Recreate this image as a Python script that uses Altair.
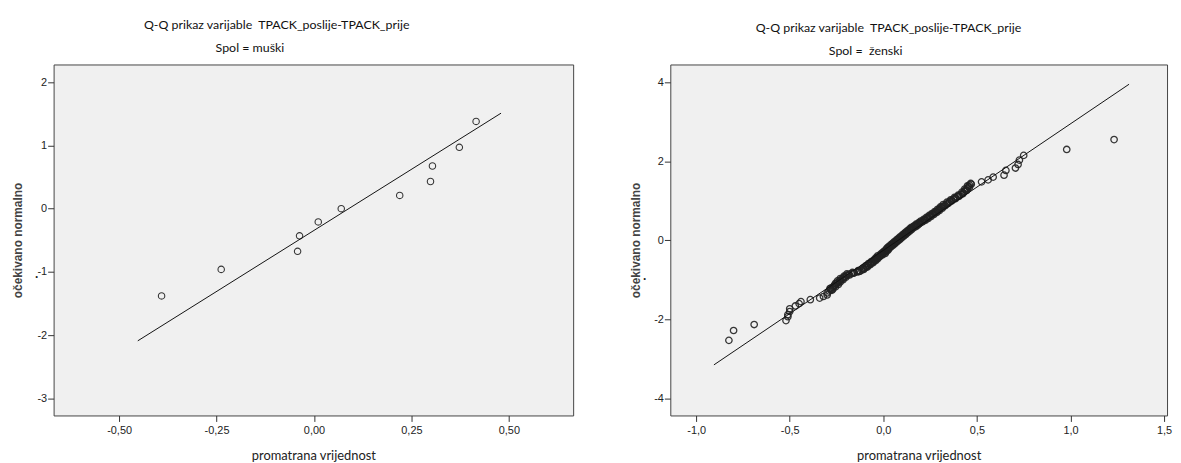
import altair as alt
import pandas as pd

NB = "\u00a0"
TITLE = "Q-Q prikaz varijable" + NB + NB + "TPACK_poslije-TPACK_prije"
SUB_M = "Spol = muški"
SUB_F = "Spol =" + NB + NB + "ženski"
X_TITLE = "promatrana vrijednost"
Y_TITLE = "očekivano normalno"

# ---- muški panel ----
m_obs = [-0.391, -0.238, -0.042, -0.037, 0.011, 0.070, 0.220, 0.299, 0.304, 0.373, 0.416]
m_exp = [-1.38, -0.96, -0.675, -0.43, -0.21, 0.0, 0.21, 0.43, 0.675, 0.97, 1.38]
m_line_x = [-0.452, 0.480]
m_line_y = [-2.09, 1.51]
m_xticks = [-0.5, -0.25, 0.0, 0.25, 0.5]
m_yticks = [-3, -2, -1, 0, 1, 2]

# ---- ženski panel ----
f_obs = [
    -0.825, -0.80, -0.69, -0.52, -0.51, -0.51, -0.50, -0.50, -0.47, -0.45,
    -0.44, -0.39, -0.34, -0.32, -0.30, -0.30,
    -0.29, -0.28, -0.285, -0.27, -0.265, -0.26, -0.25, -0.245, -0.235, -0.23,
    -0.22, -0.215, -0.205, -0.195, -0.185, -0.17, -0.155, -0.14, -0.125, -0.115,
    -0.105, -0.095, -0.09, -0.08, -0.07, -0.065, -0.055, -0.05, -0.045, -0.04,
    -0.035, -0.03, -0.02, -0.015, -0.01, -0.005, 0.0, 0.005, 0.01, 0.015,
    0.02, 0.02, 0.025, 0.03, 0.035, 0.04, 0.045, 0.05, 0.055, 0.06,
    0.065, 0.07, 0.075, 0.08, 0.085, 0.09, 0.095, 0.10, 0.105, 0.11,
    0.115, 0.12, 0.125, 0.13, 0.135, 0.14, 0.145, 0.15, 0.155, 0.16,
    0.17, 0.175, 0.18, 0.19, 0.195, 0.20, 0.21, 0.215, 0.22, 0.23,
    0.235, 0.245, 0.25, 0.26, 0.265, 0.275, 0.28, 0.29, 0.295, 0.30,
    0.31, 0.32, 0.33, 0.34, 0.35, 0.355, 0.365, 0.375, 0.385, 0.395,
    0.405, 0.415, 0.425, 0.435, 0.44, 0.45, 0.455, 0.46,
    0.467, 0.525, 0.56, 0.587, 0.645, 0.655, 0.706, 0.72, 0.727, 0.75,
    0.98, 1.233,
    -0.275, -0.27, -0.28, -0.255, -0.26, -0.24, -0.255, -0.23, -0.245, -0.215,
    -0.23, -0.20, -0.21, -0.18, -0.195, -0.16, -0.165, -0.13, -0.135, -0.105,
    -0.11, -0.085, -0.095, -0.07, -0.08, -0.055, -0.065, -0.04, -0.05, -0.03,
    -0.04, -0.02, -0.03, -0.005, -0.015, 0.01, -0.005, 0.015, 0.005, 0.025,
    0.015, 0.03, 0.02, 0.04, 0.03, 0.05, 0.04, 0.06, 0.05, 0.07,
    0.06, 0.08, 0.07, 0.09, 0.08, 0.10, 0.09, 0.11, 0.10, 0.12,
    0.11, 0.13, 0.12, 0.14, 0.13, 0.15, 0.14, 0.16, 0.15, 0.175,
    0.165, 0.185, 0.175, 0.195, 0.19, 0.21, 0.20, 0.225, 0.215, 0.24,
    0.23, 0.255, 0.245, 0.27, 0.26, 0.285, 0.275, 0.30, 0.29, 0.315,
    0.305, 0.33, 0.32, 0.345, 0.34, 0.365, 0.36, 0.385, 0.38, 0.405,
    0.40, 0.425, 0.42, 0.445, 0.435, 0.46, 0.45, 0.47,
]
f_exp = [
    -2.53, -2.28, -2.13, -2.03, -1.93, -1.88, -1.80, -1.73, -1.66, -1.60,
    -1.55, -1.50, -1.46, -1.42, -1.38, -1.33,
    -1.28, -1.25, -1.22, -1.19, -1.16, -1.13, -1.10, -1.07, -1.04, -1.01,
    -0.98, -0.95, -0.92, -0.89, -0.86, -0.84, -0.82, -0.80, -0.78, -0.75,
    -0.72, -0.69, -0.66, -0.63, -0.60, -0.575, -0.55, -0.525, -0.50, -0.475,
    -0.45, -0.425, -0.40, -0.38, -0.36, -0.34, -0.32, -0.30, -0.28, -0.26,
    -0.24, -0.22, -0.20, -0.18, -0.16, -0.14, -0.12, -0.10, -0.08, -0.06,
    -0.04, -0.02, 0.0, 0.02, 0.04, 0.06, 0.08, 0.10, 0.12, 0.14,
    0.16, 0.18, 0.20, 0.22, 0.24, 0.26, 0.28, 0.30, 0.32, 0.34,
    0.36, 0.38, 0.40, 0.42, 0.44, 0.46, 0.48, 0.50, 0.52, 0.545,
    0.57, 0.595, 0.62, 0.645, 0.67, 0.695, 0.72, 0.745, 0.77, 0.80,
    0.83, 0.86, 0.89, 0.92, 0.95, 0.98, 1.01, 1.04, 1.07, 1.10,
    1.13, 1.16, 1.20, 1.24, 1.28, 1.32, 1.36, 1.40,
    1.44, 1.48, 1.53, 1.60, 1.65, 1.77, 1.83, 1.92, 2.03, 2.15,
    2.30, 2.55,
    -1.265, -1.235, -1.205, -1.175, -1.145, -1.115, -1.085, -1.055, -1.025, -0.995,
    -0.965, -0.935, -0.905, -0.875, -0.85, -0.83, -0.81, -0.79, -0.765, -0.735,
    -0.705, -0.675, -0.645, -0.615, -0.59, -0.565, -0.54, -0.51, -0.49, -0.465,
    -0.44, -0.415, -0.39, -0.37, -0.35, -0.33, -0.31, -0.29, -0.27, -0.25,
    -0.23, -0.21, -0.19, -0.17, -0.15, -0.13, -0.11, -0.09, -0.07, -0.05,
    -0.03, -0.01, 0.01, 0.03, 0.05, 0.07, 0.09, 0.11, 0.13, 0.15,
    0.17, 0.19, 0.21, 0.23, 0.25, 0.27, 0.29, 0.31, 0.33, 0.35,
    0.37, 0.39, 0.41, 0.43, 0.45, 0.47, 0.49, 0.51, 0.53, 0.555,
    0.58, 0.605, 0.63, 0.655, 0.68, 0.705, 0.73, 0.755, 0.785, 0.815,
    0.845, 0.875, 0.905, 0.935, 0.965, 0.995, 1.025, 1.055, 1.085, 1.115,
    1.145, 1.18, 1.22, 1.26, 1.30, 1.34, 1.38, 1.42,
]
f_line_x = [-0.905, 1.313]
f_line_y = [-3.15, 3.95]
f_xticks = [-1.0, -0.5, 0.0, 0.5, 1.0, 1.5]
f_yticks = [-4, -2, 0, 2, 4]

MINUS = "\u2212"


def label_expr(fmt):
    return "replace(replace(format(datum.value, '%s'), '.', ','), '%s', '-')" % (fmt, MINUS)


def panel(obs, exp, lx, ly, xdom, ydom, xticks, yticks, xfmt, w, h,
          sub, tx, ty, sx, sy, ytitle_x, dot_x, dot_y, sw):
    pts = pd.DataFrame({"x": obs, "y": exp})
    ln = pd.DataFrame({"x": lx, "y": ly})
    xs = alt.Scale(domain=xdom, nice=False, zero=False)
    ys = alt.Scale(domain=ydom, nice=False, zero=False)
    xaxis = alt.Axis(values=xticks, labelExpr=label_expr(xfmt), title=X_TITLE,
                     titleFont="Lato", titleFontSize=13, titleFontWeight="normal",
                     titleColor="#222", titlePadding=14, labelPadding=3)
    yaxis = alt.Axis(values=yticks, labelExpr=label_expr("d"), title=Y_TITLE,
                     titleFont="Liberation Sans", titleFontSize=12,
                     titleFontWeight="bold", titleColor="#444",
                     titleX=ytitle_x, labelPadding=1)
    points = alt.Chart(pts).mark_point(
        shape="circle", filled=False, size=42, stroke="#222",
        strokeWidth=sw, opacity=0.9
    ).encode(
        x=alt.X("x:Q", scale=xs, axis=xaxis),
        y=alt.Y("y:Q", scale=ys, axis=yaxis),
    )
    line = alt.Chart(ln).mark_line(color="#111", strokeWidth=1).encode(
        x=alt.X("x:Q", scale=xs),
        y=alt.Y("y:Q", scale=ys),
    )
    t1 = alt.Chart(pd.DataFrame({"t": [TITLE]})).mark_text(
        font="Lato", fontSize=12.5, color="#111", baseline="middle", align="center"
    ).encode(text="t:N", x=alt.value(tx), y=alt.value(ty))
    t2 = alt.Chart(pd.DataFrame({"t": [sub]})).mark_text(
        font="Lato", fontSize=12.5, color="#111", baseline="middle", align="center"
    ).encode(text="t:N", x=alt.value(sx), y=alt.value(sy))
    dot = alt.Chart(pd.DataFrame({"t": ["."]})).mark_text(
        font="Liberation Sans", fontSize=12, fontWeight="bold", color="#222",
        baseline="alphabetic", align="center"
    ).encode(text="t:N", x=alt.value(dot_x), y=alt.value(dot_y))
    return alt.layer(points, line, t1, t2, dot).properties(width=w, height=h)


left = panel(m_obs, m_exp, m_line_x, m_line_y, [-0.668, 0.665], [-3.27, 2.28],
             m_xticks, m_yticks, ".2f", 524, 354,
             SUB_M, 225, -40, 198, -17, -29, -17, 215, 1.1)
right = panel(f_obs, f_exp, f_line_x, f_line_y, [-1.138, 1.516], [-4.43, 4.45],
              f_xticks, f_yticks, ".1f", 501, 354,
              SUB_F, 220, -37, 197, -14, -28, -26, 217, 1.3)

chart = alt.hconcat(left, right, spacing=55).properties(
    padding={"left": 3, "top": 8, "right": 0, "bottom": 0}
).configure_view(
    fill="#f0f0f0", stroke="#444", strokeWidth=1
).configure_axis(
    grid=False, domain=False, tickColor="#333", tickSize=6,
    labelFont="Liberation Sans", labelFontSize=11, labelColor="#222"
)

chart.save("out.html", embed_options={"renderer": "svg", "actions": False})
